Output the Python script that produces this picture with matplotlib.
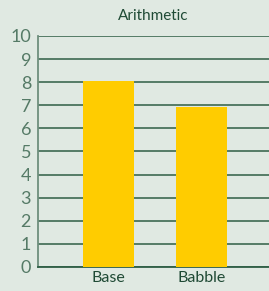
import matplotlib.pyplot as plt

# chart data
categories = ["Base", "Babble"]
values = [8.05, 6.93]
yticks = list(range(0, 11))

bg = "#e0e9e2"
grid_col = "#2f5e45"
text_col = "#1f4a35"
tick_col = "#557a66"

plt.rcParams["font.family"] = ["Lato", "DejaVu Sans"]

fig = plt.figure(figsize=(2.69, 2.91), dpi=100, facecolor=bg)
ax = fig.add_axes([0.1413, 0.0825, 0.859, 0.794], facecolor=bg)

xs = range(len(categories))
ax.bar(xs, values, width=0.55, color="#ffcc00", zorder=3)

ax.set_xlim(-0.758, 1.726)
ax.set_ylim(0, 10)
ax.set_yticks(yticks)
ax.set_xticks(list(xs))
ax.set_xticklabels(categories)

# horizontal grid
ax.grid(axis="y", color=grid_col, linewidth=1.1, zorder=1)
ax.set_axisbelow(True)

for side in ["top", "right"]:
    ax.spines[side].set_visible(False)
ax.spines["left"].set_color("#6f8f7d")
ax.spines["left"].set_linewidth(1.3)
ax.spines["bottom"].set_color(grid_col)
ax.spines["bottom"].set_linewidth(1.3)

ax.tick_params(axis="y", length=0, pad=5, labelsize=13, labelcolor=tick_col)
ax.tick_params(axis="x", length=0, pad=3, labelsize=11.5, labelcolor=text_col)

fig.text(0.57, 0.945, "Arithmetic", ha="center", va="center",
         fontsize=11, color=text_col)

plt.savefig("out.png", dpi=100, facecolor=bg)
